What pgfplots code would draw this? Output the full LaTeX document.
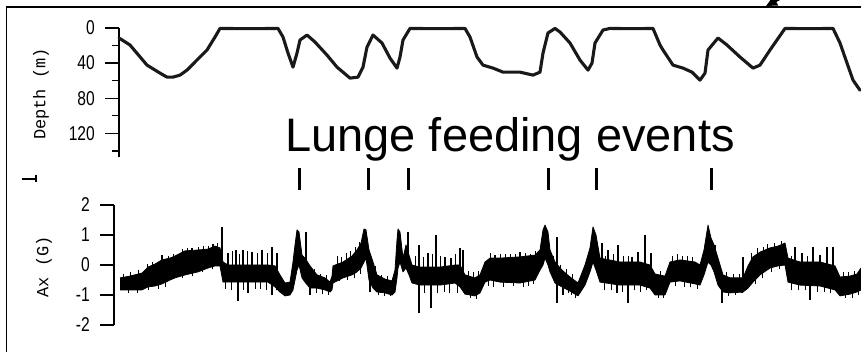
\documentclass[border=0pt]{standalone}
\usepackage{fontspec}
\setmainfont{Liberation Sans}
\newfontfamily\gothic{Liberation Mono}
\newfontfamily\ticfont[FakeStretch=0.78]{Liberation Sans}
\usepackage{pgfplots}
\usepackage{pgfplotstable}
\pgfplotsset{compat=1.18}
\usetikzlibrary{arrows.meta}

% depth profile: time (arbitrary units), depth (m)
\pgfplotstableread{
t depth
0 11.4
11 19.4
28 42.3
41 51.4
48 56
54 56
61 53.7
68 48
74 41.1
81 33.1
88 25.1
96 10.3
101 0.5
130 0.8
159 0.5
164 10.3
169 28.6
174 44.6
178 28.6
181 13.7
188 8
196 16
208 30.9
218 44.6
231 57.1
239 56
244 44.6
248 21.7
254 8
263 17.1
271 34.3
278 45.7
281 33.1
284 13.7
291 0.5
320 0.8
346 0.5
351 10.3
358 33.1
364 42.3
374 45.7
384 50.3
401 50.3
414 53.7
421 50.3
424 28.6
429 5.7
436 0.5
441 4.6
451 17.1
461 36.6
469 48
473 40
476 17.1
484 2.3
491 0.5
515 0.8
534 0.5
541 19.4
544 25.1
554 42.3
564 45.7
573 50.3
581 59.4
586 51.4
589 25.1
599 11.4
608 19.4
621 33.1
634 45.7
641 42.3
651 25.1
666 0.5
690 0.8
714 0.5
721 17.1
728 40
734 59.4
741 70.9
}\depthdata

% Ax band outline (G): upper envelope forward, then lower envelope backward
\pgfplotstableread{
t ax
1 -0.43
11 -0.37
23 -0.27
29 -0.07
36 0.03
43 0.17
51 0.23
56 0.30
66 0.47
79 0.50
89 0.53
96 0.63
101 0.57
104 0.10
109 0.00
121 0.00
136 0.00
149 0.00
156 -0.03
161 -0.33
166 -0.60
171 -0.57
174 0.10
176 0.67
178 1.17
180 1.10
183 0.33
186 0.23
191 -0.03
198 -0.33
206 -0.43
211 -0.57
213 -0.37
214 -0.03
224 0.10
233 0.30
238 0.50
242 0.73
245 1.20
247 1.17
250 0.50
254 0.10
258 -0.33
266 -0.47
273 -0.53
276 -0.17
278 0.83
279 1.20
281 1.10
284 0.23
287 0.67
290 0.33
293 0.00
301 -0.07
321 -0.07
336 0.00
341 0.00
346 -0.33
356 -0.43
361 -0.33
366 0.10
371 0.23
381 0.23
401 0.27
416 0.33
421 0.50
424 1.17
426 1.33
429 1.10
431 0.50
436 0.10
443 -0.17
451 -0.40
459 -0.60
466 0.00
471 0.57
474 1.27
477 1.00
481 0.23
501 0.10
521 0.10
531 0.00
536 -0.30
546 -0.37
551 0.10
561 0.17
576 0.10
581 0.00
585 0.50
589 1.33
592 0.90
595 0.67
599 0.23
604 -0.33
611 -0.43
624 -0.43
629 -0.03
634 0.27
641 0.43
651 0.57
659 0.63
666 0.73
669 0.23
681 0.10
701 0.10
716 -0.03
721 -0.40
731 -0.37
738 -0.30
742 -0.10
742 -0.83
738 -0.90
731 -0.97
721 -1.03
716 -0.83
701 -0.70
681 -0.67
669 -0.57
666 0.00
659 -0.03
651 -0.10
641 -0.33
634 -0.57
629 -0.77
624 -0.90
611 -0.93
604 -0.90
599 -0.67
595 -0.23
592 0.00
589 0.10
585 -0.33
581 -0.67
576 -0.63
561 -0.53
551 -0.57
546 -1.00
536 -1.00
531 -0.77
521 -0.67
501 -0.67
481 -0.57
477 -0.17
474 0.10
471 -0.23
466 -0.67
459 -1.03
451 -0.87
443 -0.73
436 -0.60
431 -0.23
429 0.00
426 0.23
424 0.00
421 -0.17
416 -0.50
401 -0.60
381 -0.57
371 -0.50
366 -0.57
361 -0.93
356 -1.03
346 -0.97
341 -0.73
336 -0.60
321 -0.67
301 -0.67
293 -0.60
290 -0.33
287 -0.10
284 -0.23
281 0.10
279 -0.10
278 -0.43
276 -0.90
273 -1.00
266 -0.93
258 -0.90
254 -0.77
250 -0.50
247 0.23
245 0.10
242 -0.10
238 -0.23
233 -0.33
224 -0.43
214 -0.60
213 -0.83
211 -0.90
206 -0.83
198 -0.77
191 -0.77
186 -0.57
183 -0.43
180 0.00
178 -0.17
176 -0.50
174 -0.83
171 -1.00
166 -1.03
161 -0.90
156 -0.73
149 -0.57
136 -0.57
121 -0.57
109 -0.57
104 -0.57
101 -0.03
96 -0.03
89 -0.10
79 -0.23
66 -0.33
56 -0.43
51 -0.50
43 -0.63
36 -0.70
29 -0.73
23 -0.83
11 -0.83
1 -0.83
}\banddata

\begin{document}
\begin{tikzpicture}[x=1pt,y=1pt]
\useasboundingbox (0,0) rectangle (861,352);
\fill[white] (0,0) rectangle (861,352);
\draw[line width=1.5pt] (6.5,0) -- (6.5,345) -- (870,345);
\draw[line width=1.3pt] (22,173) -- (36,173) (36,170) -- (36,177);
\draw[line width=2.6pt, -{Triangle[length=11pt,width=10pt]}] (815,372) -- (766,346);

\pgfplotsset{
  commonax/.style={
    scale only axis, anchor=south west, clip=false,
    axis x line=none, axis y line*=left,
    tick align=outside,
    major tick length=14pt, minor tick length=7pt,
    every tick/.style={line width=1.3pt, black},
    axis line style={line width=1.3pt, black},
    /pgf/number format/assume math mode=true,
    yticklabel style={font=\ticfont\fontsize{20}{20}\selectfont, inner sep=0pt},
  }
}

\begin{axis}[commonax,
  at={(119pt,195pt)}, width=742pt, height=129pt,
  xmin=0, xmax=742, ymin=0, ymax=147, y dir=reverse,
  ytick={0,40,80,120}, minor ytick={20,60,100,140},
  yticklabel style={xshift=-10pt}]
\addplot[line width=3.1pt, black!90, line join=round, line cap=round, mark=none] table[x=t, y=depth] {\depthdata};
\end{axis}

\begin{axis}[commonax,
  at={(114pt,27pt)}, width=747pt, height=120pt,
  xmin=-5, xmax=742, ymin=-2, ymax=2,
  ytick={-2,-1,0,1,2},
  yticklabel style={xshift=-10pt}]
\addplot[fill=black, draw=black, line width=0.8pt, line join=round, mark=none] table[x=t, y=ax] {\banddata};
% large spikes
\addplot[black, line width=1.1pt, mark=none, unbounded coords=jump] coordinates {
(43,0.33) (43,-0.2) (43,nan)
(73,0.57) (73,0.0) (73,nan)
(94,0.70) (94,0.2) (94,nan)
(103,1.27) (103,0.2) (103,nan)
(109,0.40) (109,-0.2) (109,nan)
(117,0.50) (117,-0.2) (117,nan)
(124,0.50) (124,-0.2) (124,nan)
(133,0.43) (133,-0.2) (133,nan)
(143,0.50) (143,-0.2) (143,nan)
(153,0.60) (153,-0.2) (153,nan)
(158,0.40) (158,-0.2) (158,nan)
(187,1.10) (187,-0.2) (187,nan)
(289,1.10) (289,0.0) (289,nan)
(300,0.67) (300,-0.3) (300,nan)
(309,0.40) (309,-0.3) (309,nan)
(317,1.00) (317,-0.3) (317,nan)
(326,0.27) (326,-0.3) (326,nan)
(332,0.23) (332,-0.3) (332,nan)
(341,0.57) (341,-0.3) (341,nan)
(344,0.50) (344,-0.3) (344,nan)
(376,0.33) (376,-0.2) (376,nan)
(401,0.43) (401,-0.2) (401,nan)
(419,0.40) (419,-0.2) (419,nan)
(438,0.93) (438,-0.2) (438,nan)
(483,0.73) (483,-0.3) (483,nan)
(489,0.50) (489,-0.3) (489,nan)
(499,0.67) (499,-0.3) (499,nan)
(513,0.27) (513,-0.3) (513,nan)
(519,0.43) (519,-0.3) (519,nan)
(526,1.00) (526,-0.3) (526,nan)
(532,0.40) (532,-0.3) (532,nan)
(596,0.67) (596,0.0) (596,nan)
(624,0.27) (624,-0.6) (624,nan)
(676,0.60) (676,-0.3) (676,nan)
(683,0.40) (683,-0.3) (683,nan)
(694,0.60) (694,-0.3) (694,nan)
(701,0.33) (701,-0.3) (701,nan)
(708,0.60) (708,-0.3) (708,nan)
(714,0.60) (714,-0.3) (714,nan)
(119,-1.20) (119,-0.3) (119,nan)
(129,-0.93) (129,-0.3) (129,nan)
(153,-1.00) (153,-0.3) (153,nan)
(191,-1.00) (191,-0.4) (191,nan)
(251,-0.90) (251,-0.2) (251,nan)
(300,-1.60) (300,-0.3) (300,nan)
(312,-1.43) (312,-0.3) (312,nan)
(438,-1.27) (438,-0.3) (438,nan)
(444,-1.00) (444,-0.5) (444,nan)
(498,-0.93) (498,-0.3) (498,nan)
(509,-1.27) (509,-0.3) (509,nan)
(603,-1.27) (603,-0.5) (603,nan)
(623,-0.93) (623,-0.6) (623,nan)
(691,-1.17) (691,-0.3) (691,nan)
};
% fine noise teeth along the band edges
\addplot[black, line width=1pt, mark=none, unbounded coords=jump] coordinates {
(4,-0.30) (4,-0.62) (4,nan)
(11,-0.25) (11,-0.6) (11,nan)
(19,-0.17) (19,-0.55) (19,nan)
(28,0.03) (28,-0.4) (28,nan)
(33,0.10) (33,-0.35) (33,nan)
(49,0.30) (49,-0.15) (49,nan)
(54,0.37) (54,-0.07) (54,nan)
(63,0.53) (63,0.05) (63,nan)
(68,0.57) (68,0.1) (68,nan)
(79,0.60) (79,0.13) (79,nan)
(84,0.62) (84,0.18) (84,nan)
(89,0.62) (89,0.2) (89,nan)
(98,0.72) (98,0.3) (98,nan)
(9,-0.93) (9,-0.62) (9,nan)
(18,-0.93) (18,-0.55) (18,nan)
(29,-0.83) (29,-0.4) (29,nan)
(39,-0.80) (39,-0.3) (39,nan)
(46,-0.73) (46,-0.2) (46,nan)
(63,-0.45) (63,0.05) (63,nan)
(73,-0.38) (73,0.1) (73,nan)
(83,-0.25) (83,0.15) (83,nan)
(93,-0.15) (93,0.25) (93,nan)
(113,0.45) (113,-0.3) (113,nan)
(120,0.35) (120,-0.3) (120,nan)
(128,0.45) (128,-0.3) (128,nan)
(138,0.40) (138,-0.3) (138,nan)
(148,0.40) (148,-0.3) (148,nan)
(106,-0.80) (106,-0.3) (106,nan)
(112,-0.85) (112,-0.3) (112,nan)
(124,-0.85) (124,-0.3) (124,nan)
(136,-0.80) (136,-0.3) (136,nan)
(141,-0.80) (141,-0.3) (141,nan)
(147,-0.85) (147,-0.3) (147,nan)
(157,-0.85) (157,-0.3) (157,nan)
(195,-0.15) (195,-0.5) (195,nan)
(201,-0.30) (201,-0.6) (201,nan)
(207,-0.35) (207,-0.6) (207,nan)
(197,-0.95) (197,-0.6) (197,nan)
(203,-0.97) (203,-0.6) (203,nan)
(209,-1.00) (209,-0.7) (209,nan)
(218,0.30) (218,-0.2) (218,nan)
(222,0.25) (222,-0.2) (222,nan)
(227,0.40) (227,-0.1) (227,nan)
(231,0.45) (231,0.0) (231,nan)
(236,0.60) (236,0.1) (236,nan)
(240,0.75) (240,0.3) (240,nan)
(220,-0.55) (220,-0.2) (220,nan)
(228,-0.50) (228,-0.1) (228,nan)
(235,-0.45) (235,0.0) (235,nan)
(241,-0.30) (241,0.2) (241,nan)
(256,-0.05) (256,-0.5) (256,nan)
(262,-0.35) (262,-0.7) (262,nan)
(268,-0.38) (268,-0.7) (268,nan)
(273,-0.45) (273,-0.75) (273,nan)
(259,-1.00) (259,-0.6) (259,nan)
(265,-1.02) (265,-0.7) (265,nan)
(271,-1.05) (271,-0.75) (271,nan)
(296,0.30) (296,-0.3) (296,nan)
(304,0.25) (304,-0.3) (304,nan)
(313,0.35) (313,-0.3) (313,nan)
(321,0.30) (321,-0.3) (321,nan)
(336,0.35) (336,-0.3) (336,nan)
(305,-0.95) (305,-0.3) (305,nan)
(318,-0.95) (318,-0.3) (318,nan)
(325,-0.90) (325,-0.3) (325,nan)
(330,-0.95) (330,-0.3) (330,nan)
(338,-0.95) (338,-0.3) (338,nan)
(349,-0.20) (349,-0.6) (349,nan)
(354,-0.25) (354,-0.7) (354,nan)
(359,-0.20) (359,-0.6) (359,nan)
(351,-1.10) (351,-0.7) (351,nan)
(357,-1.12) (357,-0.7) (357,nan)
(371,0.40) (371,-0.2) (371,nan)
(381,0.35) (381,-0.2) (381,nan)
(386,0.38) (386,-0.2) (386,nan)
(391,0.35) (391,-0.2) (391,nan)
(396,0.35) (396,-0.2) (396,nan)
(406,0.40) (406,-0.2) (406,nan)
(411,0.38) (411,-0.2) (411,nan)
(416,0.45) (416,-0.1) (416,nan)
(369,-0.70) (369,-0.2) (369,nan)
(374,-0.75) (374,-0.2) (374,nan)
(384,-0.72) (384,-0.2) (384,nan)
(394,-0.70) (394,-0.2) (394,nan)
(404,-0.75) (404,-0.2) (404,nan)
(409,-0.70) (409,-0.2) (409,nan)
(414,-0.65) (414,-0.1) (414,nan)
(434,0.30) (434,-0.2) (434,nan)
(441,0.00) (441,-0.4) (441,nan)
(447,-0.15) (447,-0.5) (447,nan)
(453,-0.30) (453,-0.6) (453,nan)
(449,-0.95) (449,-0.6) (449,nan)
(452,-1.00) (452,-0.6) (452,nan)
(456,-1.10) (456,-0.7) (456,nan)
(486,0.30) (486,-0.3) (486,nan)
(494,0.35) (494,-0.3) (494,nan)
(504,0.30) (504,-0.3) (504,nan)
(509,0.30) (509,-0.3) (509,nan)
(485,-0.85) (485,-0.3) (485,nan)
(492,-0.85) (492,-0.3) (492,nan)
(503,-0.90) (503,-0.3) (503,nan)
(515,-0.85) (515,-0.3) (515,nan)
(521,-0.90) (521,-0.3) (521,nan)
(527,-0.85) (527,-0.3) (527,nan)
(539,-1.10) (539,-0.7) (539,nan)
(544,-1.10) (544,-0.7) (544,nan)
(541,-0.20) (541,-0.6) (541,nan)
(553,0.30) (553,-0.2) (553,nan)
(558,0.35) (558,-0.2) (558,nan)
(563,0.30) (563,-0.2) (563,nan)
(568,0.30) (568,-0.2) (568,nan)
(573,0.28) (573,-0.2) (573,nan)
(556,-0.70) (556,-0.2) (556,nan)
(565,-0.72) (565,-0.2) (565,nan)
(571,-0.75) (571,-0.2) (571,nan)
(578,-0.80) (578,-0.3) (578,nan)
(607,-0.25) (607,-0.6) (607,nan)
(614,-0.30) (614,-0.7) (614,nan)
(620,-0.30) (620,-0.7) (620,nan)
(609,-1.05) (609,-0.7) (609,nan)
(616,-1.00) (616,-0.7) (616,nan)
(632,0.40) (632,-0.2) (632,nan)
(638,0.55) (638,0.0) (638,nan)
(644,0.60) (644,0.1) (644,nan)
(648,0.70) (648,0.2) (648,nan)
(655,0.72) (655,0.3) (655,nan)
(662,0.80) (662,0.3) (662,nan)
(636,-0.65) (636,-0.2) (636,nan)
(643,-0.45) (643,0.0) (643,nan)
(652,-0.25) (652,0.2) (652,nan)
(660,-0.15) (660,0.3) (660,nan)
(672,0.30) (672,-0.3) (672,nan)
(688,0.30) (688,-0.3) (688,nan)
(672,-0.85) (672,-0.3) (672,nan)
(679,-0.85) (679,-0.3) (679,nan)
(686,-0.85) (686,-0.3) (686,nan)
(698,-0.90) (698,-0.3) (698,nan)
(705,-0.90) (705,-0.3) (705,nan)
(711,-0.95) (711,-0.3) (711,nan)
(724,-0.25) (724,-0.7) (724,nan)
(729,-0.25) (729,-0.7) (729,nan)
(735,-0.20) (735,-0.6) (735,nan)
(726,-1.10) (726,-0.7) (726,nan)
(733,-1.10) (733,-0.7) (733,nan)
(739,-1.00) (739,-0.6) (739,nan)
};
% lunge feeding event markers
\addplot[black, line width=3pt, mark=none, unbounded coords=jump] coordinates {
(180,2.5) (180,3.23) (180,nan)
(249,2.5) (249,3.23) (249,nan)
(289,2.5) (289,3.23) (289,nan)
(429,2.5) (429,3.23) (429,nan)
(477,2.5) (477,3.23) (477,nan)
(592,2.5) (592,3.23) (592,nan)
};
\end{axis}

\node[rotate=90, font=\gothic\fontsize{17}{17}\selectfont] at (41,258) {Depth (m)};
\node[rotate=90, font=\gothic\fontsize{17}{17}\selectfont] at (44,85) {Ax (G)};
\node[anchor=base, font=\fontsize{47}{47}\selectfont, inner sep=0pt] at (510,200) {Lunge feeding events};
\end{tikzpicture}
\end{document}
